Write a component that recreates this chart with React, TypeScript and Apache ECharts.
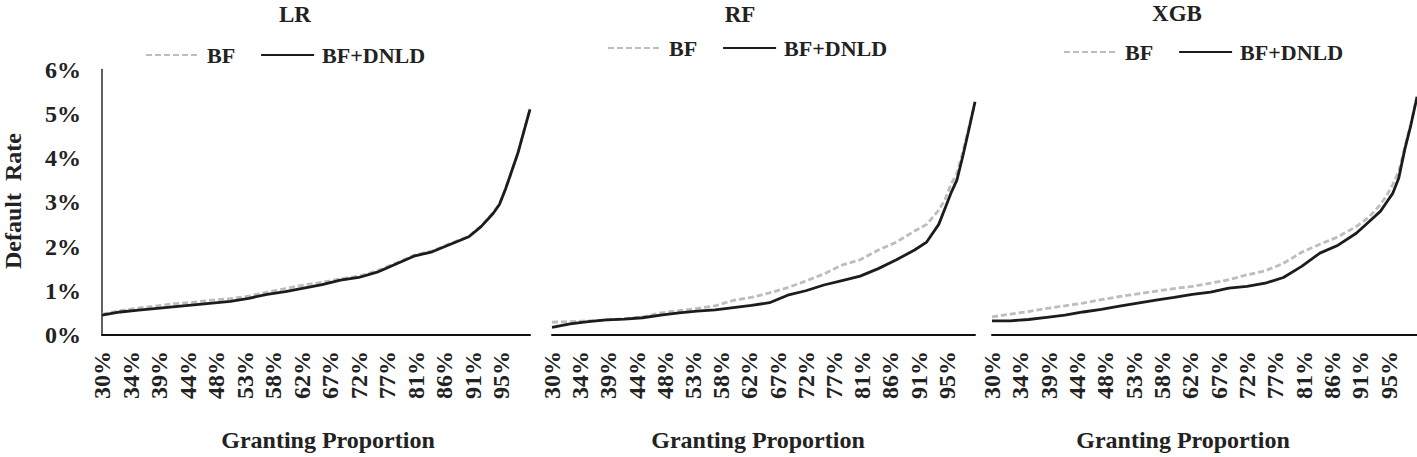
import React, { useEffect, useRef } from "react";
import * as echarts from "echarts";

// Granting proportion (%) at which values were read
const X_PROP = [30, 33, 36, 39, 42, 45, 48, 51, 54, 57, 60, 63, 66, 69, 72, 75, 78, 81, 84, 87, 90, 92, 94, 95, 96, 97, 98, 99, 100];

// Default rate (%) per model
const LR_BF = [0.47, 0.55, 0.61, 0.66, 0.71, 0.74, 0.79, 0.82, 0.88, 0.97, 1.05, 1.13, 1.19, 1.27, 1.33, 1.45, 1.62, 1.8, 1.9, 2.07, 2.23, 2.46, 2.77, 2.96, 3.3, 3.7, 4.1, 4.6, 5.12];
const LR_DNLD = [0.45, 0.52, 0.56, 0.6, 0.64, 0.68, 0.72, 0.76, 0.83, 0.92, 0.98, 1.06, 1.14, 1.24, 1.3, 1.42, 1.6, 1.78, 1.88, 2.05, 2.22, 2.45, 2.75, 2.95, 3.3, 3.7, 4.1, 4.6, 5.1];
const RF_BF = [0.29, 0.3, 0.32, 0.34, 0.37, 0.41, 0.5, 0.55, 0.6, 0.66, 0.78, 0.85, 0.95, 1.07, 1.22, 1.38, 1.58, 1.7, 1.92, 2.1, 2.35, 2.5, 2.82, 3.05, 3.4, 3.65, 4.15, 4.7, 5.24];
const RF_DNLD = [0.17, 0.25, 0.3, 0.34, 0.36, 0.39, 0.45, 0.5, 0.54, 0.57, 0.62, 0.67, 0.73, 0.9, 1.0, 1.13, 1.23, 1.33, 1.5, 1.7, 1.92, 2.1, 2.5, 2.85, 3.2, 3.5, 4.05, 4.65, 5.27];
const XGB_BF = [0.41, 0.47, 0.53, 0.6, 0.66, 0.72, 0.8, 0.87, 0.93, 0.99, 1.05, 1.1, 1.17, 1.25, 1.36, 1.45, 1.62, 1.87, 2.05, 2.22, 2.45, 2.65, 2.95, 3.15, 3.4, 3.7, 4.25, 4.78, 5.4];
const XGB_DNLD = [0.32, 0.32, 0.35, 0.4, 0.45, 0.52, 0.58, 0.65, 0.72, 0.79, 0.85, 0.92, 0.97, 1.06, 1.1, 1.17, 1.3, 1.55, 1.85, 2.03, 2.3, 2.55, 2.8, 3.0, 3.2, 3.55, 4.2, 4.75, 5.38];

const PANELS = ["LR", "RF", "XGB"];
const SERIES_NAMES = ["BF", "BF+DNLD"];

// x-axis tick positions (granting proportion, %) and their printed labels
const X_TICK_POS = [30, 34.67, 39.33, 44, 48.67, 53.33, 58, 62.67, 67.33, 72, 76.67, 81.33, 86, 90.67, 95.33];
const X_TICK_LABELS = ["30%", "34%", "39%", "44%", "48%", "53%", "58%", "62%", "67%", "72%", "77%", "81%", "86%", "91%", "95%"];

const Y_MIN = 0;
const Y_MAX = 6;
const Y_STEP = 1;

const FONT = "'Liberation Serif', 'Times New Roman', Times, serif";
const TXT = "#222222";
const GRAY = "#bdbdbd";
const BLACK = "#1c1c1c";

export default function App() {
  const ref = useRef<HTMLDivElement>(null);

  useEffect(() => {
    if (!ref.current) return;
    const chart = echarts.init(ref.current, undefined, { renderer: "svg" });

    const data = [
      [LR_BF, LR_DNLD],
      [RF_BF, RF_DNLD],
      [XGB_BF, XGB_DNLD],
    ];

    const gridLayout = [
      { left: 102, width: 428 },
      { left: 552, width: 423 },
      { left: 992, width: 425 },
    ];
    const titlePos = [
      { x: 295, y: 14 },
      { x: 740, y: 14 },
      { x: 1177, y: 13 },
    ];
    const legendPos = [
      { left: 145, top: 43 },
      { left: 607, top: 36 },
      { left: 1063, top: 40 },
    ];
    const xNamePos = [328, 758, 1183];

    const tickFmt = (v: number) => {
      const i = X_TICK_POS.findIndex((t) => Math.abs(t - v) < 0.01);
      return i >= 0 ? X_TICK_LABELS[i] : "";
    };

    const series: any[] = [];
    PANELS.forEach((_, p) => {
      series.push({
        type: "line",
        name: SERIES_NAMES[0],
        xAxisIndex: p,
        yAxisIndex: p,
        symbol: "none",
        data: X_PROP.map((x, i) => [x, data[p][0][i]]),
        lineStyle: { color: GRAY, width: 2.8, type: [6, 3] },
        itemStyle: { color: GRAY },
        z: 2,
      });
      series.push({
        type: "line",
        name: SERIES_NAMES[1],
        xAxisIndex: p,
        yAxisIndex: p,
        symbol: "none",
        data: X_PROP.map((x, i) => [x, data[p][1][i]]),
        lineStyle: { color: BLACK, width: 2.8, type: "solid" },
        itemStyle: { color: BLACK },
        z: 3,
      });
    });

    const textStyle = (text: string, size: number) => ({
      text,
      font: `bold ${size}px ${FONT}`,
      fill: TXT,
      align: "center",
      verticalAlign: "middle",
      textAlign: "center",
      textVerticalAlign: "middle",
    });

    const graphic: any[] = [];
    PANELS.forEach((name, p) => {
      graphic.push({ type: "text", x: titlePos[p].x, y: titlePos[p].y, style: textStyle(name, 23) });
      graphic.push({ type: "text", x: xNamePos[p], y: 440, style: textStyle("Granting Proportion", 24) });
    });
    graphic.push({
      type: "text",
      x: 13,
      y: 201,
      rotation: Math.PI / 2,
      style: textStyle("Default  Rate", 24),
    });

    chart.setOption({
      animation: false,
      backgroundColor: "#ffffff",
      grid: gridLayout.map((g) => ({ left: g.left, width: g.width, top: 69.5, height: 265.5, containLabel: false })),
      legend: legendPos.map((l) => ({
        data: SERIES_NAMES,
        left: l.left,
        top: l.top,
        padding: 0,
        itemWidth: 53,
        itemHeight: 14,
        itemGap: 25,
        itemStyle: { opacity: 0, borderWidth: 0 },
        textStyle: { fontFamily: FONT, fontWeight: "bold", fontSize: 22, color: TXT, padding: [0, 0, 0, 3], lineHeight: 24 },
      })),
      xAxis: PANELS.map((_, p) => ({
        type: "value",
        gridIndex: p,
        min: 30,
        max: 100,
        splitLine: { show: false },
        axisTick: { show: false },
        axisLine: { show: true, onZero: false, lineStyle: { color: "#111", width: 2 } },
        axisLabel: {
          customValues: X_TICK_POS,
          formatter: tickFmt,
          rotate: 90,
          margin: 16,
          fontFamily: FONT,
          fontWeight: "bold",
          fontSize: 24,
          color: TXT,
          hideOverlap: false,
        },
      })),
      yAxis: PANELS.map((_, p) => ({
        type: "value",
        gridIndex: p,
        min: Y_MIN,
        max: Y_MAX,
        interval: Y_STEP,
        show: p === 0,
        splitLine: { show: false },
        axisTick: { show: false },
        axisLine: { show: p === 0, lineStyle: { color: "#3a3a3a", width: 1.6 } },
        axisLabel: {
          show: p === 0,
          formatter: "{value}%",
          margin: 21,
          fontFamily: FONT,
          fontWeight: "bold",
          fontSize: 24,
          color: TXT,
        },
      })),
      series,
      graphic,
    });

    return () => chart.dispose();
  }, []);

  return <div ref={ref} style={{ position: "absolute", left: 0, top: 0, width: 1417, height: 457 }} />;
}
